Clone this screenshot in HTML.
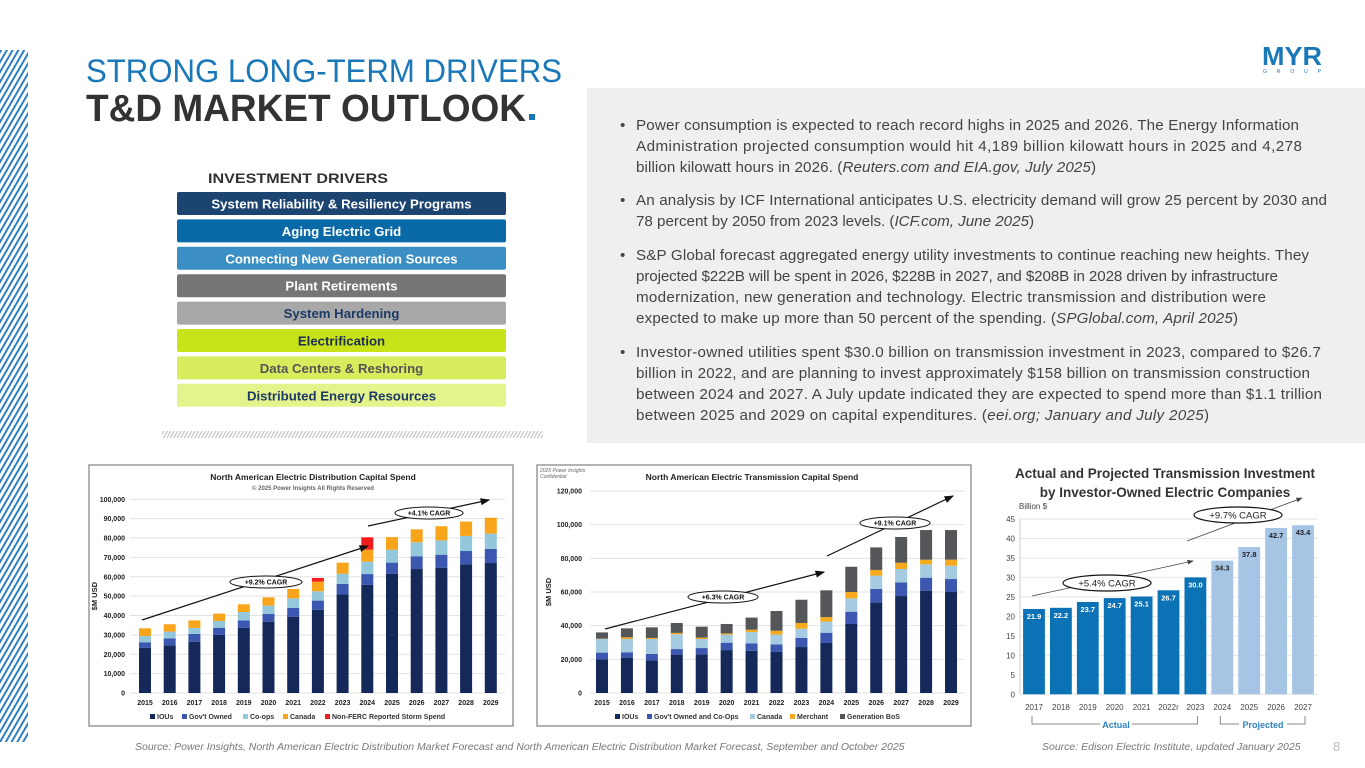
<!DOCTYPE html>
<html><head><meta charset="utf-8"><style>
html,body{margin:0;padding:0;background:#fff;}
svg{display:block;font-family:"Liberation Sans",Arial,sans-serif;}
</style></head><body>
<svg id="s" width="1365" height="768" viewBox="0 0 1365 768" xmlns="http://www.w3.org/2000/svg">
<defs>
<pattern id="hatch" width="5" height="5" patternUnits="userSpaceOnUse" patternTransform="rotate(30)">
<rect width="5" height="5" fill="#fff"/><rect width="2" height="5" fill="#2f7fc0"/></pattern>
<pattern id="hatch2" width="3" height="3" patternUnits="userSpaceOnUse" patternTransform="rotate(30)">
<rect width="3" height="3" fill="#fff"/><rect width="1" height="3" fill="#bbb"/></pattern>
<marker id="ah" markerWidth="8" markerHeight="8" refX="7" refY="4" orient="auto"><path d="M0,1 L8,4 L0,7 z" fill="#111"/></marker>
<marker id="ah2" markerWidth="8" markerHeight="8" refX="7" refY="4" orient="auto"><path d="M0,1 L8,4 L0,7 z" fill="#444"/></marker>
</defs>
<rect x="0" y="50" width="28" height="692" fill="url(#hatch)"/>
<text x="86" y="82" font-size="32" fill="#1a78b8" textLength="476" lengthAdjust="spacingAndGlyphs">STRONG LONG-TERM DRIVERS</text>
<text x="86" y="121" font-size="38" font-weight="bold" fill="#333" textLength="440" lengthAdjust="spacingAndGlyphs">T&amp;D MARKET OUTLOOK</text>
<rect x="529" y="114" width="6" height="6" fill="#1a78b8"/>
<g>
<text x="1262" y="65" font-size="26" font-weight="bold" fill="#1a78b8" textLength="60" lengthAdjust="spacingAndGlyphs">MYR</text>
<text x="1263" y="73" font-size="5" fill="#1a78b8" textLength="58" lengthAdjust="spacing">G R O U P</text>
</g>
<rect x="587" y="88" width="778" height="355" fill="#efefef"/>
<g font-size="15.2" fill="#444" lengthAdjust="spacing">
<text x="620" y="130">•</text>
<text x="636" y="130" textLength="663">Power consumption is expected to reach record highs in 2025 and 2026. The Energy Information</text>
<text x="636" y="151" textLength="666">Administration projected consumption would hit 4,189 billion kilowatt hours in 2025 and 4,278</text>
<text x="636" y="172" textLength="460">billion kilowatt hours in 2026. (<tspan font-style="italic">Reuters.com and EIA.gov, July 2025</tspan>)</text>
<text x="620" y="205">•</text>
<text x="636" y="205" textLength="691">An analysis by ICF International anticipates U.S. electricity demand will grow 25 percent by 2030 and</text>
<text x="636" y="226" textLength="398">78 percent by 2050 from 2023 levels. (<tspan font-style="italic">ICF.com, June 2025</tspan>)</text>
<text x="620" y="260">•</text>
<text x="636" y="260" textLength="673">S&amp;P Global forecast aggregated energy utility investments to continue reaching new heights. They</text>
<text x="636" y="281" textLength="642">projected $222B will be spent in 2026, $228B in 2027, and $208B in 2028 driven by infrastructure</text>
<text x="636" y="302" textLength="630">modernization, new generation and technology. Electric transmission and distribution were</text>
<text x="636" y="323" textLength="602">expected to make up more than 50 percent of the spending. (<tspan font-style="italic">SPGlobal.com, April 2025</tspan>)</text>
<text x="620" y="357">•</text>
<text x="636" y="357" textLength="685">Investor-owned utilities spent $30.0 billion on transmission investment in 2023, compared to $26.7</text>
<text x="636" y="378" textLength="674">billion in 2022, and are planning to invest approximately $158 billion on transmission construction</text>
<text x="636" y="399" textLength="686">between 2024 and 2027. A July update indicated they are expected to spend more than $1.1 trillion</text>
<text x="636" y="420" textLength="573">between 2025 and 2029 on capital expenditures. (<tspan font-style="italic">eei.org; January and July 2025</tspan>)</text>
</g>
<text x="298" y="183" font-size="14" font-weight="bold" fill="#333" text-anchor="middle" textLength="180" lengthAdjust="spacingAndGlyphs">INVESTMENT DRIVERS</text>
<g id="drivers"></g>
<rect x="162" y="431" width="381" height="7" fill="url(#hatch2)"/>
<g id="c1"></g><g id="c2"></g><g id="c3"></g>
<g font-size="10.5" font-style="italic" fill="#777">
<text x="135" y="750">Source:  Power Insights, North American Electric Distribution Market Forecast and North American Electric Distribution Market Forecast, September and October 2025</text>
<text x="1042" y="750">Source:  Edison Electric Institute, updated January 2025</text>
</g>
<text x="1333" y="751" font-size="13" fill="#bbb">8</text>
</svg>
<script>
const NS="http://www.w3.org/2000/svg";
function mk(p,t,a,txt){const e=document.createElementNS(NS,t);for(const k in a)e.setAttribute(k,a[k]);if(txt!==undefined)e.textContent=txt;p.appendChild(e);return e;}

const driverLabels=["System Reliability & Resiliency Programs","Aging Electric Grid","Connecting New Generation Sources","Plant Retirements","System Hardening","Electrification","Data Centers & Reshoring","Distributed Energy Resources"];
const driverFill=["#1c4470","#0a6aa8","#3c8fc4","#767676","#a8a8a8","#c9e31a","#d8ec5e","#e4f38c"];
const driverText=["#fff","#fff","#fff","#fff","#1c3a66","#1c2f50","#555","#1c3a66"];
const dg=document.getElementById('drivers');
driverLabels.forEach((l,i)=>{const y=192+i*27.4;
const r=mk(dg,'rect',{x:177,y:y,width:329,height:23,rx:2,fill:driverFill[i]});


const t=mk(dg,'text',{x:341.5,y:y+16.5,'font-size':13.2,'font-weight':'bold',fill:driverText[i],'text-anchor':'middle'},l);

});

const c1Years=["2015","2016","2017","2018","2019","2020","2021","2022","2023","2024","2025","2026","2027","2028","2029"];
const c1IOU=[23.4,24.6,26.5,30.0,33.6,36.8,39.4,43.0,50.9,55.8,61.6,64.0,64.7,66.4,67.1];
const c1Gov=[2.8,3.6,4.0,3.7,3.9,4.0,4.5,4.7,5.4,5.6,5.7,6.6,6.7,6.9,7.3];
const c1Coop=[3.2,3.5,3.1,3.5,4.3,4.3,5.0,4.8,5.3,6.4,6.7,7.2,7.4,7.8,7.9];
const c1Canada=[4.0,3.8,3.9,3.8,4.0,4.3,4.8,5.0,5.7,6.2,6.5,6.7,7.3,7.4,8.2];
const c1Storm=[0,0,0,0,0,0,0,1.9,0,6.4,0,0,0,0,0];
const c1Ticks=["0","10,000","20,000","30,000","40,000","50,000","60,000","70,000","80,000","90,000","100,000"];
const c1Legend=["IOUs","Gov't Owned","Co-ops","Canada","Non-FERC Reported Storm Spend"];

const c2Years=["2015","2016","2017","2018","2019","2020","2021","2022","2023","2024","2025","2026","2027","2028","2029"];
const c2IOU=[20.0,21.0,19.4,22.8,23.0,25.5,25.1,24.4,27.3,29.7,41.0,53.7,57.6,60.8,60.0];
const c2Gov=[4.0,3.2,3.8,3.3,3.7,4.4,4.4,4.5,5.4,6.1,7.3,8.1,8.1,7.7,7.7];
const c2Canada=[8.1,7.9,8.9,8.8,5.4,4.8,6.7,5.8,5.5,6.6,7.9,7.9,8.0,7.9,7.9];
const c2Merchant=[0.2,1.0,0.6,0.8,0.8,0.7,1.4,2.3,3.4,2.7,3.8,3.4,3.7,2.8,3.6];
const c2Gen=[3.7,5.3,6.3,5.9,6.5,5.6,7.2,11.7,13.8,15.9,15.0,13.4,15.3,17.6,17.6];
const c2Ticks=["0","20,000","40,000","60,000","80,000","100,000","120,000"];
const c2Legend=["IOUs","Gov't Owned and Co-Ops","Canada","Merchant","Generation BoS"];

const c3Years=["2017","2018","2019","2020","2021","2022r","2023","2024","2025","2026","2027"];
const c3Values=[21.9,22.2,23.7,24.7,25.1,26.7,30.0,34.3,37.8,42.7,43.4];
const c3Projected=[0,0,0,0,0,0,0,1,1,1,1];
const c3Ticks=[0,5,10,15,20,25,30,35,40,45];

function stacked(g,o){
  const x=i=>o.x0+i*o.step, y=v=>o.yb-(v/o.max)*(o.yb-o.yt);
  mk(g,'rect',{x:o.bx,y:o.by,width:o.bw,height:o.bh,fill:'#fff',stroke:'#999','stroke-width':1.5});
  o.ticks.forEach((t,i)=>{const v=i*o.max/(o.ticks.length-1);
    const gl=mk(g,'line',{x1:o.gx1,x2:o.gx2,y1:y(v),y2:y(v),stroke:'#e2e2e2'});
    
    const tl=mk(g,'text',{x:o.tx,y:y(v)+2.5,'font-size':7,'font-weight':'bold',fill:'#222','text-anchor':'end'},t);
    });
  o.years.forEach((yr,i)=>{let c=0;
    o.series.forEach((s,k)=>{const v=s[i];if(v>0){
      const r=mk(g,'rect',{x:x(i)-o.w/2,y:y(c+v),width:o.w,height:y(c)-y(c+v),fill:o.colors[k]});
      }c+=v;});
    const xl=mk(g,'text',{x:x(i),y:o.yb+12,'font-size':7,'font-weight':'bold',fill:'#222','text-anchor':'middle'},yr);
    });
  o.legend.forEach((l,k)=>{mk(g,'rect',{x:o.lx[k],y:o.ly-5,width:5,height:5,fill:o.colors[k]});
    const lt=mk(g,'text',{x:o.lx[k]+7,y:o.ly,'font-size':7,'font-weight':'bold',fill:'#333'},l);
    });
  const tt=mk(g,'text',{x:o.titx,y:o.by+15,'font-size':8.5,'font-weight':'bold',fill:'#222','text-anchor':'middle'},o.title);
  
  const yt=mk(g,'text',{x:0,y:0,'font-size':7.5,'font-weight':'bold',fill:'#222','text-anchor':'middle',transform:`translate(${o.ytx},${(o.yt+o.yb)/2}) rotate(-90)`},'$M USD');
  
  o.arrows.forEach(a=>{mk(g,'line',{x1:a[0],y1:a[1],x2:a[2],y2:a[3],stroke:'#111','stroke-width':1.2,'marker-end':'url(#ah)'});});
  o.ells.forEach(e=>{mk(g,'ellipse',{cx:e[0],cy:e[1],rx:e[2],ry:6,fill:'#fff',stroke:'#111','stroke-width':1});
    const et=mk(g,'text',{x:e[0],y:e[1]+2.5,'font-size':7,'font-weight':'bold',fill:'#111','text-anchor':'middle'},e[3]);
    });
}
const g1=document.getElementById('c1');


stacked(g1,{bx:89,by:465,bw:424,bh:261,x0:145,step:24.7,w:12,yb:693,yt:499.3,max:100,gx1:130,gx2:505,tx:125,ytx:97,
 years:c1Years,series:[c1IOU,c1Gov,c1Coop,c1Canada,c1Storm],ticks:c1Ticks,
 colors:["#14295a","#3b57b0","#93c8dc","#f8a51c","#f21c1c"],legend:c1Legend,lx:[150,182,243,283,325],ly:719,
 title:"North American Electric Distribution Capital Spend",titx:313,
 arrows:[[142,620,368,546],[368,526,489,500]],ells:[[266,582,36,"+9.2% CAGR"],[429,513,34,"+4.1% CAGR"]]});
mk(g1,'text',{x:313,y:490,'font-size':6,'font-weight':'bold',fill:'#666','text-anchor':'middle'},'© 2025 Power Insights All Rights Reserved');

const g2=document.getElementById('c2');


stacked(g2,{bx:537,by:465,bw:434,bh:261,x0:602,step:24.93,w:12,yb:693,yt:491,max:120,gx1:590,gx2:965,tx:582,ytx:551,
 years:c2Years,series:[c2IOU,c2Gov,c2Canada,c2Merchant,c2Gen],ticks:c2Ticks,
 colors:["#14295a","#3b57b0","#a5cbe0","#f5a91c","#555659"],legend:c2Legend,lx:[615,647,750,790,840],ly:719,
 title:"North American Electric Transmission Capital Spend",titx:752,
 arrows:[[605,629,824,572],[827,556,953,496]],ells:[[723,597,35,"+6.3% CAGR"],[895,523,35,"+9.1% CAGR"]]});
mk(g2,'text',{x:540,y:472,'font-size':5,'font-style':'italic',fill:'#666'},'2025 Power Insights');
mk(g2,'text',{x:540,y:478,'font-size':5,'font-style':'italic',fill:'#666'},'Confidential');

const g3=document.getElementById('c3');


(function(){const x=i=>1034+i*26.9, y=v=>694.3-v/45*(694.3-519);
 mk(g3,'text',{x:1165,y:478,'font-size':13.5,'font-weight':'bold',fill:'#333','text-anchor':'middle'},'Actual and Projected Transmission Investment');
 mk(g3,'text',{x:1165,y:497,'font-size':13.5,'font-weight':'bold',fill:'#333','text-anchor':'middle'},'by Investor-Owned Electric Companies');
 mk(g3,'text',{x:1019,y:509,'font-size':8,fill:'#444'},'Billion $');
 c3Ticks.forEach(t=>{const gl=mk(g3,'line',{x1:1020,x2:1318,y1:y(t),y2:y(t),stroke:'#e6e6e6'});
  
  const tl=mk(g3,'text',{x:1015,y:y(t)+3,'font-size':8,fill:'#444','text-anchor':'end'},String(t));
  });
 mk(g3,'line',{x1:1020,x2:1020,y1:519,y2:694.3,stroke:'#ccc'});
 c3Years.forEach((yr,i)=>{const v=c3Values[i],p=c3Projected[i];
  const r=mk(g3,'rect',{x:x(i)-10.9,y:y(v),width:21.8,height:y(0)-y(v),fill:p?'#a6c4e4':'#0a72b5'});
  
  const vl=mk(g3,'text',{x:x(i),y:y(v)+10,'font-size':7.5,'font-weight':'bold',fill:p?'#222':'#fff','text-anchor':'middle'},v.toFixed(1));
  
  const xl=mk(g3,'text',{x:x(i),y:710,'font-size':8,fill:'#444','text-anchor':'middle'},yr);
  });
 mk(g3,'path',{d:`M${x(0)-2},716 V724 H1100 M1132,724 H${x(6)+2} V716`,stroke:'#888',fill:'none'});
 mk(g3,'path',{d:`M${x(7)-2},716 V724 H1239 M1287,724 H${x(10)+2} V716`,stroke:'#888',fill:'none'});
 mk(g3,'text',{x:1116,y:728,'font-size':9,'font-weight':'bold',fill:'#2c82c2','text-anchor':'middle'},'Actual');
 mk(g3,'text',{x:1263,y:728,'font-size':9,'font-weight':'bold',fill:'#2c82c2','text-anchor':'middle'},'Projected');
 mk(g3,'line',{x1:1032,y1:596,x2:1193,y2:561,stroke:'#444','stroke-width':0.8,'marker-end':'url(#ah2)'});
 mk(g3,'line',{x1:1187,y1:541,x2:1302,y2:498,stroke:'#444','stroke-width':0.8,'marker-end':'url(#ah2)'});
 [[1107,583,"+5.4% CAGR"],[1238,515,"+9.7% CAGR"]].forEach(e=>{mk(g3,'ellipse',{cx:e[0],cy:e[1],rx:44,ry:8,fill:'#fff',stroke:'#111','stroke-width':1.2});
  const t=mk(g3,'text',{x:e[0],y:e[1]+3.5,'font-size':9.5,fill:'#222','text-anchor':'middle'},e[2]);
  });
})();
</script>
</body></html>
